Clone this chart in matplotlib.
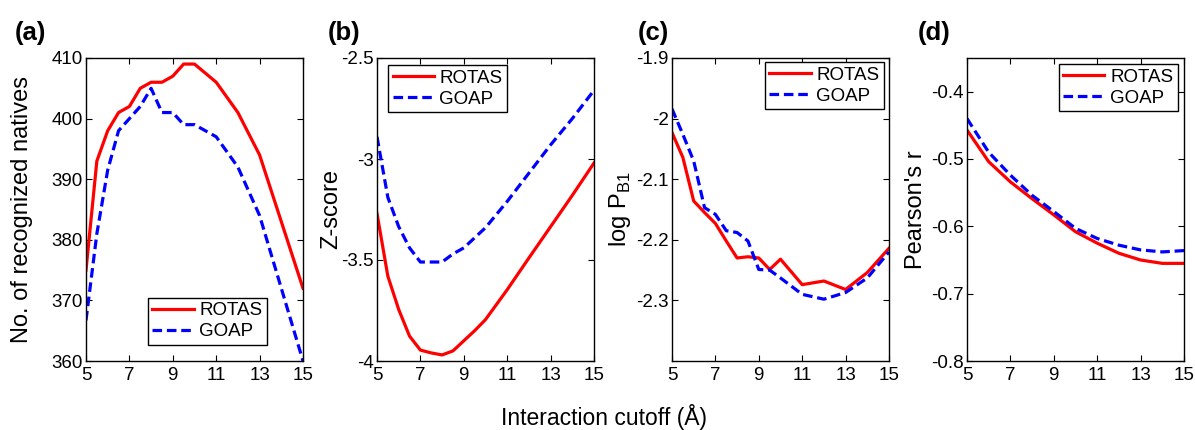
import numpy as np
import matplotlib
matplotlib.use('Agg')
import matplotlib.pyplot as plt

plt.rcParams['font.family'] = ['Liberation Sans', 'DejaVu Sans']
plt.rcParams['mathtext.fontset'] = 'custom'
plt.rcParams['mathtext.rm'] = 'Liberation Sans'

# interaction cutoffs
x_half = [5, 5.5, 6, 6.5, 7, 7.5, 8, 8.5, 9, 9.5, 10, 11, 12, 13, 14, 15]
x_int = [5, 6, 7, 8, 9, 10, 11, 12, 13, 14, 15]

# (a) number of recognized natives
a_rotas = [375, 393, 398, 401, 402, 405, 406, 406, 407, 409, 409, 406, 401, 394, 383, 372]
a_goap = [366.7, 381, 391.5, 398, 400, 402, 405, 401, 401, 399, 399, 397, 392, 384, 372, 360]

# (b) Z-score
b_rotas = [-3.27, -3.58, -3.745, -3.877, -3.946, -3.96, -3.97, -3.95, -3.90, -3.85, -3.795, -3.647, -3.49, -3.335, -3.18, -3.02]
b_goap = [-2.89, -3.19, -3.335, -3.44, -3.51, -3.51, -3.51, -3.47, -3.44, -3.39, -3.34, -3.21, -3.07, -2.93, -2.80, -2.66]

# (c) log P_B1
c_rotas = [-2.023, -2.064, -2.136, -2.155, -2.173, -2.202, -2.23, -2.228, -2.23, -2.249, -2.232, -2.274, -2.268, -2.282, -2.254, -2.214]
c_goap = [-1.984, -2.026, -2.07, -2.147, -2.158, -2.185, -2.188, -2.202, -2.249, -2.25, -2.263, -2.29, -2.298, -2.287, -2.263, -2.22]

# (d) Pearson's r
d_rotas = [-0.457, -0.504, -0.534, -0.559, -0.583, -0.608, -0.625, -0.640, -0.650, -0.655, -0.655]
d_goap = [-0.440, -0.490, -0.524, -0.554, -0.578, -0.603, -0.618, -0.628, -0.635, -0.638, -0.636]

panels = [
    ('(a)', x_half, a_rotas, a_goap, 'No. of recognized natives', (360, 410), [360, 370, 380, 390, 400, 410], ['360', '370', '380', '390', '400', '410']),
    ('(b)', x_half, b_rotas, b_goap, 'Z-score', (-4, -2.5), [-4, -3.5, -3, -2.5], ['-4', '-3.5', '-3', '-2.5']),
    ('(c)', x_half, c_rotas, c_goap, r'log P$_{\mathrm{B1}}$', (-2.4, -1.9), [-2.3, -2.2, -2.1, -2.0, -1.9], ['-2.3', '-2.2', '-2.1', '-2', '-1.9']),
    ('(d)', x_int, d_rotas, d_goap, "Pearson's r", (-0.8, -0.35), [-0.8, -0.7, -0.6, -0.5, -0.4], ['-0.8', '-0.7', '-0.6', '-0.5', '-0.4']),
]
# legend anchors (axes fraction) and corner
leg_pos = [('lower right', (0.834, 0.053)), ('upper left', (0.05, 0.977)),
           ('upper right', (0.977, 0.987)), ('upper right', (0.972, 0.98))]
ylab_pad = [13, -1, 2, 3]

W, H = 1195, 430
fig = plt.figure(figsize=(W / 100, H / 100), dpi=100)
lefts = [86, 377, 672, 967]
label_x = [15, 328, 638, 918]

for i, (tag, xs, rot, goa, ylab, ylim, yt, ytl) in enumerate(panels):
    ax = fig.add_axes([lefts[i] / W, (H - 361) / H, 217 / W, 303 / H])
    ax.plot(xs, rot, color='#ff0000', lw=2.3, label='ROTAS')
    ax.plot(xs, goa, color='#0000ff', lw=2.3, ls=(0, (3, 1.5)), label='GOAP')
    ax.set_xlim(5, 15)
    ax.set_ylim(*ylim)
    ax.set_xticks([5, 7, 9, 11, 13, 15])
    ax.set_yticks(yt)
    ax.set_yticklabels(ytl)
    ax.tick_params(direction='in', top=True, right=True, labelsize=13.5, length=4, width=0.8)
    ax.tick_params(axis='x', pad=4)
    ax.tick_params(axis='y', pad=2.5)
    for s in ax.spines.values():
        s.set_linewidth(1.0)
    ax.set_ylabel(ylab, fontsize=17, labelpad=ylab_pad[i])
    loc, anchor = leg_pos[i]
    leg = ax.legend(loc=loc, bbox_to_anchor=anchor, fontsize=13.5, handlelength=2.2,
                    handletextpad=0.3, borderpad=0.25, labelspacing=0.2, fancybox=False,
                    framealpha=1, borderaxespad=0)
    leg.get_frame().set_edgecolor('black')
    leg.get_frame().set_linewidth(1.0)
    fig.text(label_x[i] / W, (H - 33) / H, tag, fontsize=18.5, fontweight='bold', va='center')

fig.text(604 / W, (H - 417) / H, 'Interaction cutoff (Å)', fontsize=16.5, ha='center', va='center')

fig.savefig('out.png', dpi=100)
